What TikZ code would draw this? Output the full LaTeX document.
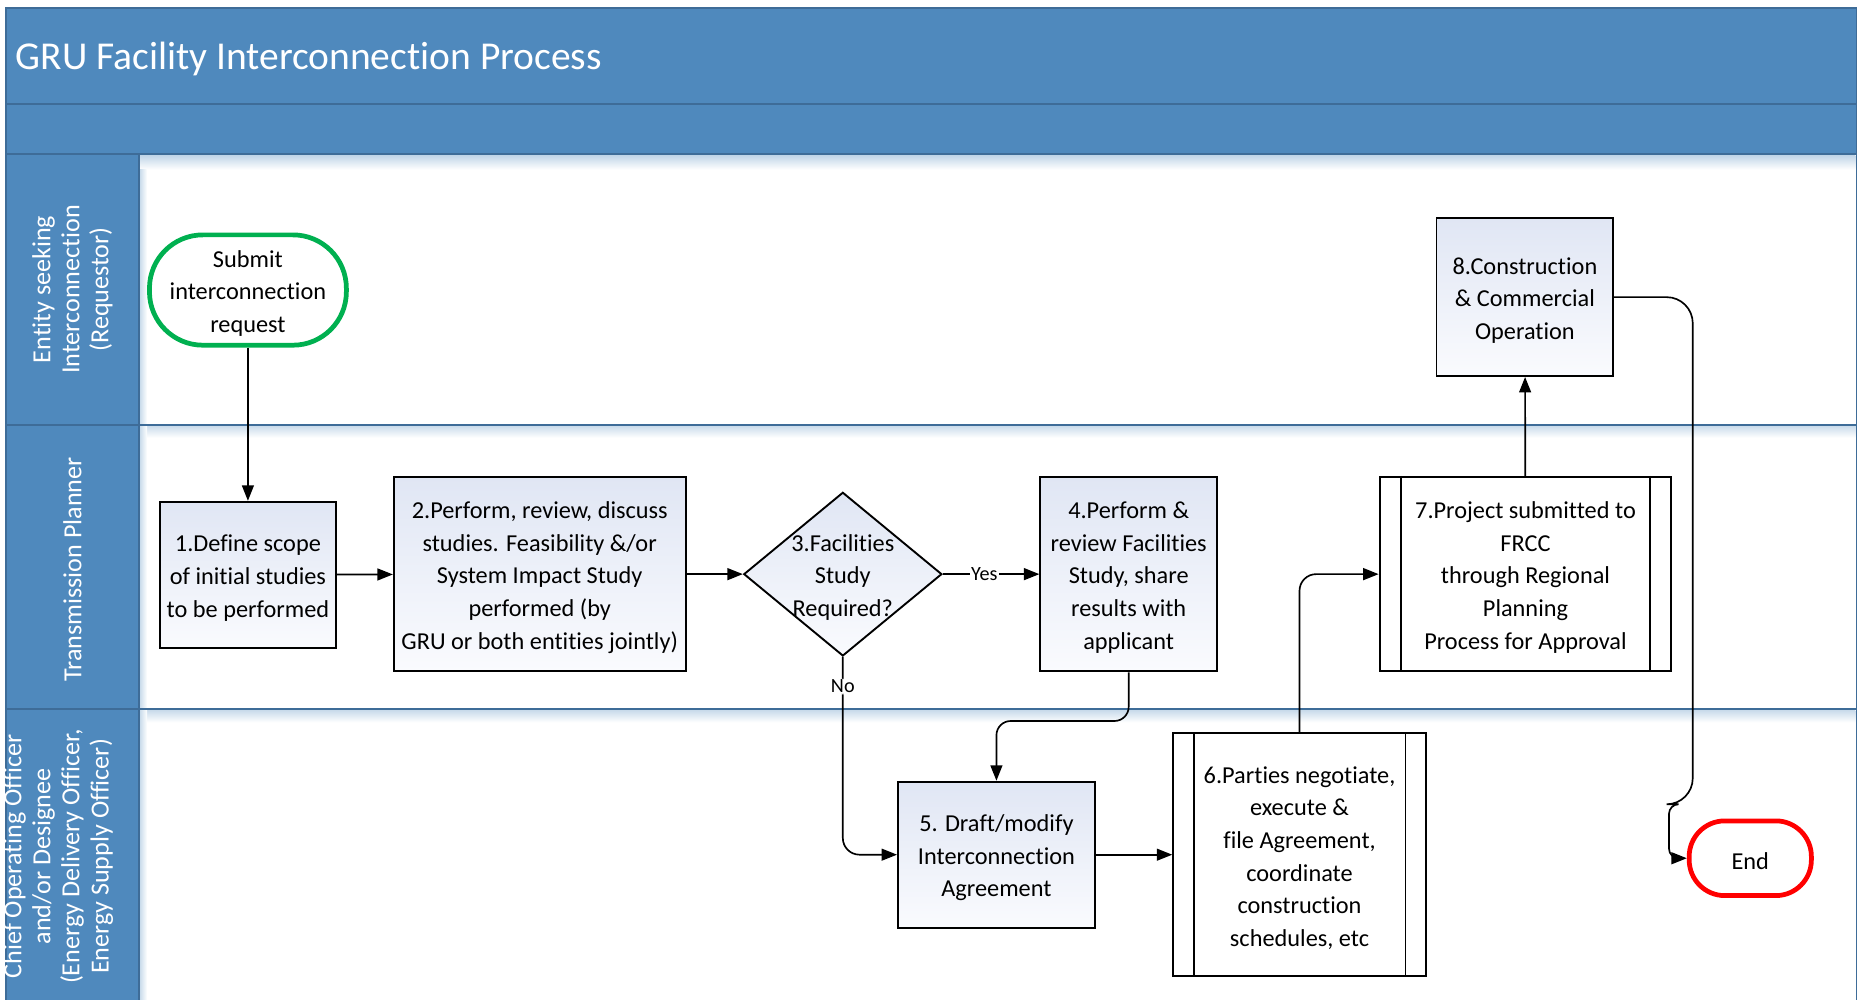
\documentclass[tikz,border=0pt]{standalone}
\usepackage{fontspec}
\setmainfont{Carlito}[Ligatures=NoCommon]
\usetikzlibrary{arrows.meta,shapes.geometric,calc}
\definecolor{band}{RGB}{79,137,189}
\definecolor{bandline}{RGB}{62,108,152}
\definecolor{boxtop}{RGB}{224,230,244}
\definecolor{boxbot}{RGB}{250,251,254}
\definecolor{startgreen}{RGB}{0,176,80}
\definecolor{endred}{RGB}{255,0,0}
\newcommand\boxtext[2]{\node[txt] (#1t) at ([yshift=-2.8pt]#1.center) {#2};}
\begin{document}
\begin{tikzpicture}[x=1pt,y=-1pt,
  txt/.style={font=\fontsize{20.5}{27.5}\selectfont, align=center, inner sep=0pt},
  procbox/.style={draw, line width=1.6pt, top color=boxtop, bottom color=boxbot, inner sep=0pt},
  predef/.style={draw, line width=1.6pt, fill=white, inner sep=0pt},
  term/.style={draw, line width=4pt, fill=white, inner sep=0pt},
  conn/.style={line width=1.4pt, -{Triangle[length=13pt,width=10pt]}},
  lbl/.style={fill=white, inner sep=1pt, font=\fontsize{17}{20}\selectfont},
  lanelbl/.style={text=white, rotate=90, align=center, font=\fontsize{22}{24.5}\selectfont},
  bandedge/.style={bandline, line width=1.6pt},
]
\useasboundingbox (0,0) rectangle (1568,843);
% ---- swimlane frame ----
\fill[band] (5,7) rectangle (1565,130);
\fill[band] (5,130) rectangle (117,843);
\shade[top color=band!35, bottom color=white] (117,131) rectangle (1564,143);
\shade[top color=band!30, bottom color=white] (117,359) rectangle (1564,369);
\shade[top color=band!30, bottom color=white] (117,599) rectangle (1564,609);
\shade[left color=band!30, right color=white] (118,143) rectangle (124,843);
\draw[bandedge] (5,843) -- (5,7) -- (1565,7) -- (1565,843);
\draw[bandedge] (5,88) -- (1565,88);
\draw[bandedge] (5,130) -- (1565,130);
\draw[bandedge] (5,358) -- (1565,358);
\draw[bandedge] (5,598) -- (1565,598);
\draw[bandedge] (117,130) -- (117,843);
\node[anchor=west, text=white, font=\fontsize{33.3}{38}\selectfont, inner sep=0pt] (title) at (13,50) {GRU Facility Interconnection Process};
\node[lanelbl] (lane1) at (61,244) {Entity seeking\\Interconnection\\(Requestor)};
\node[lanelbl] (lane2) at (61,480) {Transmission Planner};
\node[lanelbl] (lane3) at (49,722) {Chief Operating Officer\\and/or Designee\\(Energy Delivery Officer,\\Energy Supply Officer)};
% ---- shapes ----
\node[term, draw=startgreen, rounded corners=45pt, minimum width=166pt, minimum height=93pt] (start) at (209,244.5) {};
\node[procbox, minimum width=148pt, minimum height=123pt] (b1) at (209,484.5) {};
\node[procbox, minimum width=246pt, minimum height=164pt] (b2) at (455,484) {};
\node[diamond, draw, line width=1.6pt, top color=boxtop, bottom color=boxbot, minimum width=167pt, minimum height=138pt, inner sep=0pt] (d3) at (710.5,484) {};
\node[procbox, minimum width=149pt, minimum height=164pt] (b4) at (951.5,484) {};
\node[procbox, minimum width=166pt, minimum height=123pt] (b5) at (840,720.5) {};
\node[predef, minimum width=213pt, minimum height=205pt] (b6) at (1095.5,720.5) {};
\node[predef, minimum width=246pt, minimum height=164pt] (b7) at (1286,484) {};
\node[procbox, minimum width=149pt, minimum height=133pt] (b8) at (1285.5,250.5) {};
\node[term, draw=endred, rounded corners=30pt, minimum width=103pt, minimum height=63pt] (end) at (1475.5,723.5) {};
% predefined-process side bars
\draw[line width=1.6pt] ([xshift=18pt]b6.north west) -- ([xshift=18pt]b6.south west);
\draw[line width=1.6pt] ([xshift=-18pt]b6.north east) -- ([xshift=-18pt]b6.south east);
\draw[line width=1.6pt] ([xshift=19pt]b7.north west) -- ([xshift=19pt]b7.south west);
\draw[line width=1.6pt] ([xshift=-19pt]b7.north east) -- ([xshift=-19pt]b7.south east);
% ---- texts ----
\boxtext{start}{Submit\\interconnection\\request}
\boxtext{b1}{1.Define scope\\of initial studies\\to be performed}
\boxtext{b2}{2.Perform, review, discuss\\studies. Feasibility \&/or\\System Impact Study\\performed (by\\GRU or both entities jointly)}
\boxtext{d3}{3.Facilities\\Study\\Required?}
\boxtext{b4}{4.Perform \&\\review Facilities\\Study, share\\results with\\applicant}
\boxtext{b5}{5. Draft/modify\\Interconnection\\Agreement}
\boxtext{b6}{6.Parties negotiate,\\execute \&\\file Agreement,\\coordinate\\construction\\schedules, etc}
\boxtext{b7}{7.Project submitted to\\FRCC\\through Regional\\Planning\\Process for Approval}
\boxtext{b8}{8.Construction\\\& Commercial\\Operation}
\boxtext{end}{End}
% ---- connectors ----
\coordinate (c8a) at (1427,678);
\coordinate (c8b) at (1407,678);
\draw[conn] (start) -- (b1);
\draw[conn] (b1) -- (b2);
\draw[conn] (b2) -- (d3);
\draw[conn] (d3) -- node[lbl, pos=0.43] {Yes} (b4);
\draw[conn, rounded corners=14pt] (d3.south) -- ++(0,25) node[lbl] {No} |- (b5.west);
\draw[conn, rounded corners=12pt] (b4.south) -- ++(0,41) -| (b5.north);
\draw[conn] (b5) -- (b6);
\draw[conn, rounded corners=14pt] (b6.north) |- (b7.west);
\draw[conn] (b7) -- (b8);
\draw[conn, rounded corners=22pt] (b8.east) -| (c8a) [rounded corners=8pt] -- (c8b) |- (end.west);
\end{tikzpicture}
\end{document}
